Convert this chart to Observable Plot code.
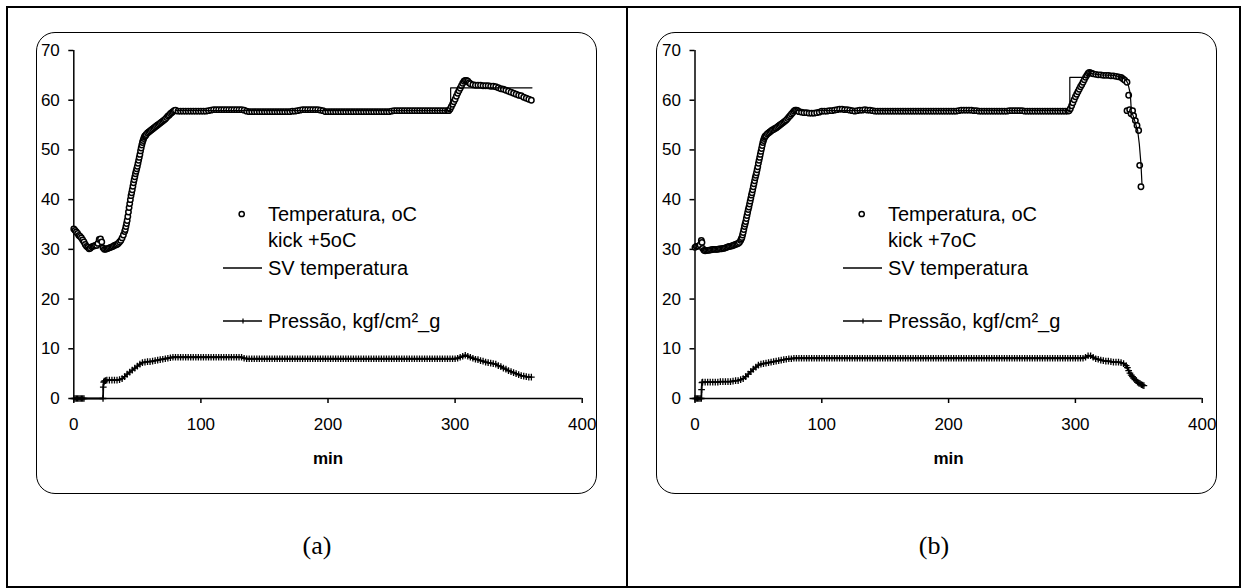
<!DOCTYPE html>
<html><head><meta charset="utf-8">
<script src="https://cdn.jsdelivr.net/npm/d3@7"></script>
<script src="https://cdn.jsdelivr.net/npm/@observablehq/plot@0.6"></script>
<style>
*{box-sizing:border-box;}
body{margin:0;background:#fff;}
#page{position:relative;width:1247px;height:588px;overflow:hidden;font-family:"Liberation Sans",Arial,sans-serif;background:#fff;}
.frame{position:absolute;border:2px solid #000;}
.vline{position:absolute;background:#000;}
.box{position:absolute;border:1.6px solid #000;border-radius:19px;}
.plot{position:absolute;}
.leg{position:absolute;font-size:20px;line-height:26px;color:#000;white-space:nowrap;}
.sw{position:absolute;overflow:visible;}
.cap{position:absolute;font-family:"Liberation Serif","Times New Roman",serif;font-size:26px;transform:translate(-50%,-50%);}
</style></head>
<body><div id="page"></div>
<script>
// ---------- data ----------
const xTicks = [0, 100, 200, 300, 400];
const yTicks = [0, 10, 20, 30, 40, 50, 60, 70];
const xLabel = "min";
const legendTemp = "Temperatura, oC";
const kickA = "kick +5oC";
const kickB = "kick +7oC";
const legendSV = "SV temperatura";
const legendPres = "Pressão, kgf/cm²_g";
const captions = ["(a)", "(b)"];

// (a) temperature [min, °C]
const tempA = [
[0,34.1],[1,33.8],[2,33.5],[3,33.2],[4,32.8],[5,32.6],[6,32.3],[7,31.9],[8,31.5],[9,31.0],[10,30.6],[11,30.4],[12,30.1],[13,30.2],[14,30.5],[15,30.6],[16,30.7],[17,30.8],[18,30.8],[19,31.2],[20,32.0],[21,32.1],[22,31.5],[23,30.3],[24,30.0],[25,30.0],[26,30.1],[27,30.2],[28,30.3],[29,30.4],[30,30.5],[31,30.6],[32,30.8],[33,30.9],[34,31.0],[35,31.2],[36,31.5],[37,31.8],[38,32.3],[39,32.9],
[40,33.6],[40.5,34.0],[41,34.6],[41.5,35.2],[42,35.8],[42.5,36.6],[43,37.5],[43.5,38.4],[44,39.2],[44.5,40.0],[45,40.8],[45.5,41.4],[46,42.0],[46.5,42.7],[47,43.4],[47.5,44.0],[48,44.6],[48.5,45.2],[49,45.7],[49.5,46.2],[50,46.7],[50.5,47.3],[51,47.9],[51.5,48.5],[52,49.1],[52.5,49.8],[53,50.4],[53.5,51.0],[54,51.5],[54.5,51.9],[55,52.3],[55.5,52.6],[56,52.8],[56.5,52.9],
[57,53.1],[58,53.4],[59,53.6],[60,53.8],[61,54.0],[62,54.2],[63,54.4],[64,54.6],[65,54.8],[66,55.0],[67,55.2],[68,55.4],[69,55.6],[70,55.8],[71,56.0],[72,56.2],[73,56.5],[74,56.8],[75,57.0],[76,57.3],[77,57.5],[78,57.7],[79,57.9],[80,58.0],
[82,57.8],[84,57.8],[86,57.8],[88,57.8],[90,57.8],[92,57.8],[94,57.8],[96,57.8],[98,57.8],[100,57.8],[102,57.8],[104,57.8],[106,57.9],[108,58.0],[110,58.1],[112,58.1],[114,58.1],[116,58.1],[118,58.1],[120,58.1],[122,58.1],[124,58.1],[126,58.1],[128,58.1],[130,58.1],[132,58.1],[134,58.0],[136,57.8],[138,57.7],[140,57.7],[142,57.7],[144,57.7],[146,57.7],[148,57.7],[150,57.7],[152,57.7],[154,57.7],[156,57.7],[158,57.7],[160,57.7],[162,57.7],[164,57.7],[166,57.7],[168,57.7],[170,57.7],[172,57.8],[174,57.8],[176,57.9],[178,58.0],[180,58.1],[182,58.1],[184,58.1],[186,58.1],[188,58.1],[190,58.1],[192,58.1],[194,58.0],[196,57.9],[198,57.7],[200,57.7],[202,57.7],[204,57.7],[206,57.7],[208,57.7],[210,57.7],[212,57.7],[214,57.7],[216,57.7],[218,57.7],[220,57.7],[222,57.7],[224,57.7],[226,57.7],[228,57.7],[230,57.7],[232,57.7],[234,57.7],[236,57.7],[238,57.7],[240,57.7],[242,57.7],[244,57.7],[246,57.7],[248,57.7],[250,57.8],[252,57.9],[254,57.9],[256,57.9],[258,57.9],[260,57.9],[262,57.9],[264,57.9],[266,57.9],[268,57.9],[270,57.9],[272,57.9],[274,57.9],[276,57.9],[278,57.9],[280,57.9],[282,57.9],[284,57.9],[286,57.9],[288,57.9],[290,57.9],[292,57.9],[294,57.9],
[295,57.9],[296,58.2],[297,58.7],[298,59.2],[299,59.7],[300,60.2],[301,60.8],[302,61.4],[303,61.9],[304,62.4],[305,62.9],[306,63.4],[307,63.8],[308,64.0],[309,64.0],[310,63.8],[311,63.5],[312,63.3],
[314,63.1],[316,63.0],[318,63.0],[320,63.0],[322,62.9],[324,62.9],[326,62.9],[328,62.8],[330,62.8],[332,62.7],[334,62.5],[336,62.3],[338,62.2],[340,62.0],[342,61.8],[344,61.6],[346,61.4],[348,61.2],[350,61.0],[352,60.9],[354,60.6],[356,60.4],[358,60.2],[360,60.0]
];
// (a) set value
const svA = [[80,57.9],[296.5,57.9],[296.5,62.5],[360.5,62.5]];
// (a) pressure
const presA = [
[0,0],[1,0],[2,0],[3,0],[4,0],[5,0],[6,0],[7,0],[8,0],[23,0],[23.2,2.3],[23.5,3.3],[24,3.5],[25,3.6],[26,3.7],[28,3.7],[30,3.7],[32,3.7],[34,3.7],[36,3.8],[38,4.0],[40,4.4],[42,4.9],[44,5.3],[46,5.7],[48,6.1],[50,6.5],[52,6.9],[54,7.2],[56,7.3],[58,7.4],[60,7.4],[62,7.5],[64,7.6],[66,7.7],[68,7.8],[70,7.9],[72,8.0],[74,8.1],[76,8.2],[78,8.3],[80,8.3],
[82,8.3],[84,8.3],[86,8.3],[88,8.3],[90,8.3],[92,8.3],[94,8.3],[96,8.3],[98,8.3],[100,8.3],[102,8.3],[104,8.3],[106,8.3],[108,8.3],[110,8.3],[112,8.3],[114,8.3],[116,8.3],[118,8.3],[120,8.3],[122,8.3],[124,8.3],[126,8.3],[128,8.3],[130,8.3],[132,8.3],[134,8.1],
[136,8.0],[138,8.0],[140,8.0],[142,8.0],[144,8.0],[146,8.0],[148,8.0],[150,8.0],[152,8.0],[154,8.0],[156,8.0],[158,8.0],[160,8.0],[162,8.0],[164,8.0],[166,8.0],[168,8.0],[170,8.0],[172,8.0],[174,8.0],[176,8.0],[178,8.0],[180,8.0],[182,8.0],[184,8.0],[186,8.0],[188,8.0],[190,8.0],[192,8.0],[194,8.0],[196,8.0],[198,8.0],[200,8.0],[202,8.0],[204,8.0],[206,8.0],[208,8.0],[210,8.0],[212,8.0],[214,8.0],[216,8.0],[218,8.0],[220,8.0],[222,8.0],[224,8.0],[226,8.0],[228,8.0],[230,8.0],[232,8.0],[234,8.0],[236,8.0],[238,8.0],[240,8.0],[242,8.0],[244,8.0],[246,8.0],[248,8.0],[250,8.0],[252,8.0],[254,8.0],[256,8.0],[258,8.0],[260,8.0],[262,8.0],[264,8.0],[266,8.0],[268,8.0],[270,8.0],[272,8.0],[274,8.0],[276,8.0],[278,8.0],[280,8.0],[282,8.0],[284,8.0],[286,8.0],[288,8.0],[290,8.0],[292,8.0],[294,8.0],[296,8.0],[298,8.0],[300,8.0],
[302,8.1],[304,8.3],[306,8.5],[308,8.7],[310,8.5],[312,8.3],[314,8.1],[316,7.9],[318,7.8],[320,7.6],[322,7.5],[324,7.3],[326,7.2],[328,7.1],[330,7.0],[332,6.9],[334,6.6],[336,6.4],[338,6.1],[340,5.9],[342,5.6],[344,5.4],[346,5.2],[348,5.0],[350,4.8],[352,4.6],[354,4.5],[356,4.4],[358,4.3],[360,4.3]
];

// (b) temperature
const tempB = [
[0,30.4],[1,30.6],[2,30.6],[3,30.7],[4,30.9],[5,31.8],[5.5,31.4],[6,30.2],[7,29.8],[8,29.7],[9,29.8],[10,29.8],[11,29.8],[12,29.9],[13,29.9],[14,30.0],[15,30.0],[16,30.0],[17,30.0],[18,30.0],[19,30.1],[20,30.1],[21,30.1],[22,30.2],[23,30.2],[24,30.3],[25,30.4],[26,30.5],[27,30.6],[28,30.6],[29,30.7],[30,30.8],[31,30.9],[32,31.0],[33,31.1],[34,31.2],[35,31.4],[36,31.8],
[36.5,32.1],[37,32.4],[37.5,32.9],[38,33.4],[38.5,34.0],[39,34.6],[39.5,35.1],[40,35.6],[40.5,36.2],[41,36.8],[41.5,37.4],[42,38.0],[42.5,38.5],[43,39.1],[43.5,39.7],[44,40.3],[44.5,40.9],[45,41.4],[45.5,42.0],[46,42.6],[46.5,43.2],[47,43.8],[47.5,44.4],[48,44.9],[48.5,45.4],[49,46.0],[49.5,46.6],[50,47.3],[50.5,47.9],[51,48.5],[51.5,49.1],[52,49.7],[52.5,50.3],[53,50.9],[53.5,51.5],[54,51.9],[54.5,52.3],[55,52.6],[55.5,52.8],[56,52.9],
[57,53.2],[58,53.4],[59,53.6],[60,53.8],[61,54.0],[62,54.1],[63,54.3],[64,54.4],[65,54.6],[66,54.8],[67,55.0],[68,55.2],[69,55.4],[70,55.6],[71,55.8],[72,56.0],[73,56.3],[74,56.6],[75,56.9],[76,57.2],[77,57.5],[78,57.8],[79,58.0],[80,58.0],[81,57.9],
[82,57.7],[84,57.6],[86,57.5],[88,57.5],[90,57.4],[92,57.4],[94,57.4],[96,57.5],[98,57.6],[100,57.8],[102,57.8],[104,57.8],[106,57.9],[108,57.9],[110,58.0],[112,58.1],[114,58.2],[116,58.2],[118,58.1],[120,58.1],[122,58.0],[124,57.9],[126,57.8],[128,57.9],[130,58.0],[132,58.0],[134,58.1],[136,58.0],[138,58.0],[140,57.9],[142,57.8],[144,57.8],[146,57.8],[148,57.8],[150,57.8],[152,57.8],[154,57.8],[156,57.8],[158,57.8],[160,57.8],[162,57.8],[164,57.8],[166,57.8],[168,57.8],[170,57.8],[172,57.8],[174,57.8],[176,57.8],[178,57.8],[180,57.8],[182,57.8],[184,57.8],[186,57.8],[188,57.8],[190,57.8],[192,57.8],[194,57.8],[196,57.8],[198,57.8],[200,57.8],[202,57.8],[204,57.8],[206,57.8],[208,57.9],[210,58.0],[212,58.0],[214,58.0],[216,58.0],[218,58.0],[220,57.9],[222,57.9],[224,57.8],[226,57.8],[228,57.8],[230,57.8],[232,57.8],[234,57.8],[236,57.8],[238,57.8],[240,57.8],[242,57.8],[244,57.8],[246,57.8],[248,57.9],[250,57.9],[252,57.9],[254,57.9],[256,57.9],[258,57.9],[260,57.8],[262,57.8],[264,57.8],[266,57.8],[268,57.8],[270,57.8],[272,57.8],[274,57.8],[276,57.8],[278,57.8],[280,57.8],[282,57.8],[284,57.8],[286,57.8],[288,57.8],[290,57.8],[292,57.8],[294,57.8],
[295,57.9],[296,58.3],[297,58.9],[298,59.5],[299,60.1],[300,60.7],[301,61.2],[302,61.7],[303,62.2],[304,62.7],[305,63.1],[306,63.6],[307,64.1],[308,64.6],[309,65.0],[310,65.4],[311,65.6],[312,65.5],[313,65.4],[314,65.3],[316,65.2],[318,65.1],[320,65.1],[322,65.0],[324,65.0],[326,65.0],[328,64.9],[330,64.9],[332,64.8],[334,64.7],[336,64.6],[337,64.4],[338,64.2],[339,64.0],
[340.7,63.6],[342.0,61.0],[340.7,57.9],[342.8,58.1],[343.9,57.3],[345.1,57.9],[345.9,56.9],[347.3,55.9],[348.6,54.9],[349.9,53.9],[350.7,46.9],[351.7,42.6]
];
// (b) set value
const svB = [[80,57.9],[295.6,57.9],[295.6,64.6],[309,64.6],[311,65.4],[320,65.1],[330,65.0],[337,64.6],[340,64.0],[341.5,63.3],[343.3,61.3],[344.1,57.9],[345.9,56.6],[349.1,53.9],[350.4,51.2],[351.7,47.2],[352.5,43.2]];
// (b) pressure
const presB = [
[0,0],[1,0],[2,0],[3,0],[4,0],[5,0],[5.2,1.8],[5.5,3.2],[6,3.3],[8,3.3],[10,3.3],[12,3.3],[14,3.3],[16,3.3],[18,3.3],[20,3.4],[22,3.4],[24,3.4],[26,3.4],[28,3.4],[30,3.5],[32,3.6],[34,3.6],[36,3.8],[38,4.0],[40,4.4],[42,4.9],[44,5.4],[46,5.9],[48,6.3],[50,6.7],[52,6.9],[54,7.0],[56,7.1],[58,7.2],[60,7.3],[62,7.4],[64,7.5],[66,7.6],[68,7.7],[70,7.8],[72,7.9],[74,8.0],[76,8.0],[78,8.1],[80,8.1],
[82,8.1],[84,8.1],[86,8.1],[88,8.1],[90,8.1],[92,8.1],[94,8.1],[96,8.1],[98,8.1],[100,8.1],[102,8.1],[104,8.1],[106,8.1],[108,8.1],[110,8.1],[112,8.1],[114,8.1],[116,8.1],[118,8.1],[120,8.1],[122,8.1],[124,8.1],[126,8.1],[128,8.1],[130,8.1],[132,8.1],[134,8.1],[136,8.1],[138,8.1],[140,8.1],[142,8.1],[144,8.1],[146,8.1],[148,8.1],[150,8.1],[152,8.1],[154,8.1],[156,8.1],[158,8.1],[160,8.1],[162,8.1],[164,8.1],[166,8.1],[168,8.1],[170,8.1],[172,8.1],[174,8.1],[176,8.1],[178,8.1],[180,8.1],[182,8.1],[184,8.1],[186,8.1],[188,8.1],[190,8.1],[192,8.1],[194,8.1],[196,8.1],[198,8.1],[200,8.1],[202,8.1],[204,8.1],[206,8.1],[208,8.1],[210,8.1],[212,8.1],[214,8.1],[216,8.1],[218,8.1],[220,8.1],[222,8.1],[224,8.1],[226,8.1],[228,8.1],[230,8.1],[232,8.1],[234,8.1],[236,8.1],[238,8.1],[240,8.1],[242,8.1],[244,8.1],[246,8.1],[248,8.1],[250,8.1],[252,8.1],[254,8.1],[256,8.1],[258,8.1],[260,8.1],[262,8.1],[264,8.1],[266,8.1],[268,8.1],[270,8.1],[272,8.1],[274,8.1],[276,8.1],[278,8.1],[280,8.1],[282,8.1],[284,8.1],[286,8.1],[288,8.1],[290,8.1],[292,8.1],[294,8.1],[296,8.1],[298,8.1],[300,8.1],[302,8.1],[304,8.1],[306,8.1],
[308,8.3],[310,8.6],[312,8.6],[314,8.3],[316,8.0],[318,7.9],[320,7.7],[322,7.6],[324,7.5],[326,7.5],[328,7.4],[330,7.3],[332,7.3],[334,7.3],[336,7.2],[338,7.0],[340,6.6],[341,6.2],[342,5.6],[343,5.1],[344,4.7],[345,4.4],[346,4.1],[347,3.8],[348,3.6],[349,3.3],[350,3.1],[351,3.0],[352,2.8],[353,2.7],[354,2.6]
];

// ---------- layout ----------
const page = document.getElementById("page");
function el(tag, cls, css, html) {
  const e = document.createElement(tag);
  if (cls) e.className = cls;
  Object.assign(e.style, css);
  if (html != null) e.textContent = html;
  page.appendChild(e);
  return e;
}
el("div", "frame", {left: "6px", top: "6px", width: "1235px", height: "582px"});
el("div", "vline", {left: "626px", top: "6px", width: "2px", height: "582px"});

const fx = d => d[0], fy = d => d[1];

function chart(temp, sv, pres, mLeft) {
  return Plot.plot({
    width: 560, height: 460,
    marginLeft: mLeft, marginRight: 15.3, marginTop: 17, marginBottom: 95,
    style: {background: "transparent", fontFamily: "'Liberation Sans', Arial, sans-serif", fontSize: "17px", color: "black", overflow: "visible"},
    x: {domain: [0, 400]},
    y: {domain: [0, 70]},
    marks: [
      Plot.axisX({ticks: xTicks, tickSize: 5, tickPadding: 14, label: null, strokeWidth: 1.5}),
      Plot.axisY({ticks: yTicks, tickSize: 5, tickPadding: 9, label: null, strokeWidth: 1.5}),
      Plot.ruleY([0], {stroke: "black", strokeWidth: 1.5}),
      Plot.ruleX([0], {stroke: "black", strokeWidth: 1.5}),
      Plot.text([xLabel], {frameAnchor: "bottom", dy: 60, fontWeight: "bold", fontSize: 17, lineAnchor: "middle"}),
      Plot.line(pres, {x: fx, y: fy, stroke: "black", strokeWidth: 1.8}),
      Plot.dot(pres, {x: fx, y: fy, symbol: "plus", r: 2.3, stroke: "black", strokeWidth: 1.3}),
      Plot.dot(temp, {x: fx, y: fy, r: 2.7, stroke: "black", fill: "white", strokeWidth: 1.5}),
      Plot.line(sv, {x: fx, y: fy, stroke: "black", strokeWidth: 1.2})
    ]
  });
}

const panels = [
  {dx: 0, temp: tempA, sv: svA, pres: presA, kick: kickA, mLeft: 36.3, cap: captions[0], capX: 317},
  {dx: 620, temp: tempB, sv: svB, pres: presB, kick: kickB, mLeft: 37.5, cap: captions[1], capX: 934}
];

for (const p of panels) {
  el("div", "box", {left: (36 + p.dx) + "px", top: "32px", width: "561px", height: "462px"});
  const svg = chart(p.temp, p.sv, p.pres, p.mLeft);
  svg.classList.add("plot");
  svg.style.left = (37 + p.dx) + "px";
  svg.style.top = "33px";
  svg.style.position = "absolute";
  page.appendChild(svg);

  // legend
  const sw = document.createElementNS("http://www.w3.org/2000/svg", "svg");
  sw.setAttribute("class", "sw");
  sw.setAttribute("width", 60); sw.setAttribute("height", 140);
  sw.style.left = (220 + p.dx) + "px"; sw.style.top = "200px"; sw.style.position = "absolute";
  sw.innerHTML =
    '<circle cx="21.7" cy="14" r="2.6" fill="white" stroke="black" stroke-width="1.5"/>' +
    '<line x1="3" x2="42" y1="68" y2="68" stroke="black" stroke-width="1.3"/>' +
    '<line x1="3" x2="42" y1="121" y2="121" stroke="black" stroke-width="1.5"/>' +
    '<line x1="23" x2="23" y1="118.5" y2="123.5" stroke="black" stroke-width="1.2"/>';
  page.appendChild(sw);
  el("div", "leg", {left: (268 + p.dx) + "px", top: "201px"}).innerHTML = legendTemp + "<br>" + p.kick;
  el("div", "leg", {left: (268 + p.dx) + "px", top: "255px"}, legendSV);
  el("div", "leg", {left: (268 + p.dx) + "px", top: "308px"}, legendPres);
  el("div", "cap", {left: p.capX + "px", top: "546px"}, p.cap);
}
</script>
</body></html>
